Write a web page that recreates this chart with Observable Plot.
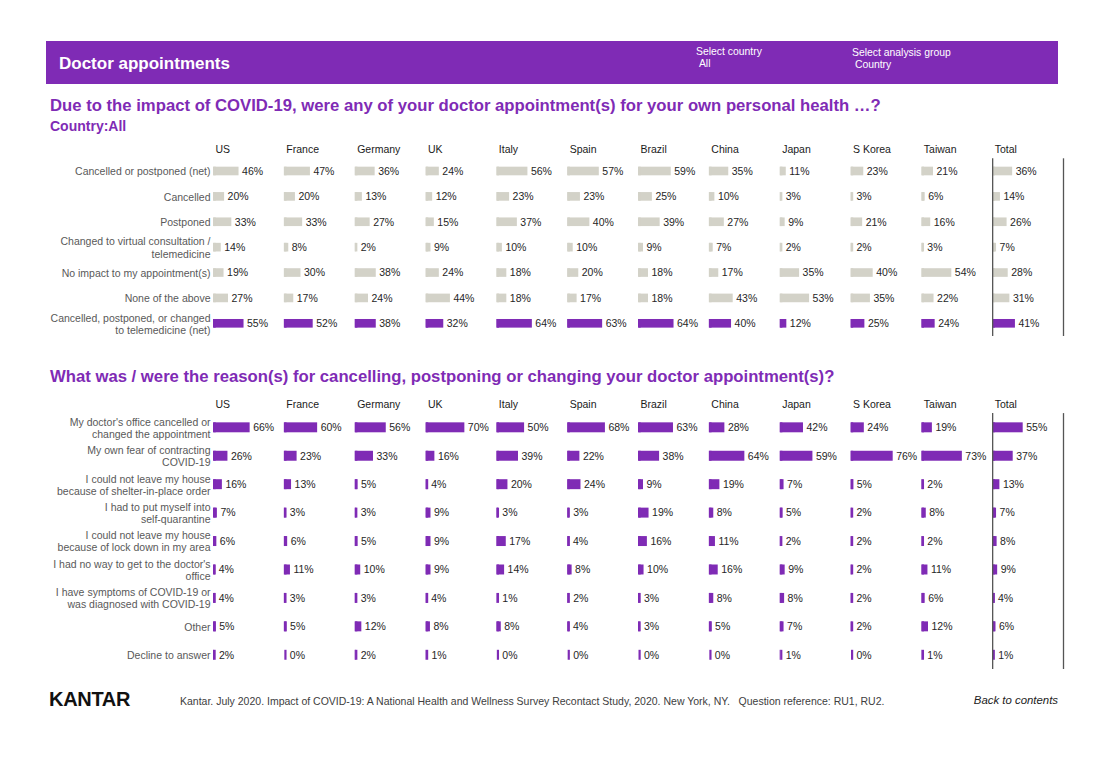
<!DOCTYPE html>
<html>
<head>
<meta charset="utf-8">
<script src="https://cdn.jsdelivr.net/npm/d3@7"></script>
<script src="https://cdn.jsdelivr.net/npm/@observablehq/plot@0.6"></script>
<style>
  html, body { margin: 0; padding: 0; background: #fff; }
  body { width: 1100px; height: 760px; position: relative; font-family: "Liberation Sans", Arial, sans-serif; overflow: hidden; }
  .abs { position: absolute; white-space: nowrap; }
  #band { left: 46px; top: 41px; width: 1012px; height: 43px; background: #7f2bb5; }
  #bandTitle { left: 59px; top: 54px; font-size: 17px; font-weight: bold; color: #fff; }
  .sel { font-size: 10.4px; color: #fff; line-height: 12px; }
  .q { left: 50px; font-size: 16.7px; font-weight: bold; color: #7f2bb5; }
  #sub { left: 50px; top: 118px; font-size: 14px; font-weight: bold; color: #7f2bb5; }
  #kantar { left: 49px; top: 688px; font-size: 20px; font-weight: bold; color: #111; letter-spacing: -0.3px; }
  #source { left: 180px; top: 695px; font-size: 10.5px; color: #404040; }
  #back { right: 42px; top: 694px; font-size: 11.4px; font-style: italic; color: #222; }
  .chart { position: absolute; left: 0; }
</style>
</head>
<body>
<div id="band" class="abs"></div>
<div id="bandTitle" class="abs">Doctor appointments</div>
<div class="abs sel" style="left:696px; top:46px;">Select country<br>&nbsp;All</div>
<div class="abs sel" style="left:852px; top:47px;">Select analysis group<br>&nbsp;Country</div>
<div class="abs q" style="top:96px;">Due to the impact of COVID-19, were any of your doctor appointment(s) for your own personal health …?</div>
<div id="sub" class="abs">Country:All</div>
<div class="abs q" style="top:367px;">What was / were the reason(s) for cancelling, postponing or changing your doctor appointment(s)?</div>
<div id="top" class="chart" style="top:140px;"></div>
<div id="bottom" class="chart" style="top:395px;"></div>
<div id="kantar" class="abs">KANTAR</div>
<div id="source" class="abs">Kantar. July 2020. Impact of COVID-19: A National Health and Wellness Survey Recontact Study, 2020. New York, NY.&nbsp;&nbsp; Question reference: RU1, RU2.</div>
<div id="back" class="abs">Back to contents</div>
<script>
const countries = ["US","France","Germany","UK","Italy","Spain","Brazil","China","Japan","S Korea","Taiwan","Total"];

// Panel 1: impact on appointments
const impactCategories = [
  "Cancelled or postponed (net)",
  "Cancelled",
  "Postponed",
  "Changed to virtual consultation /\ntelemedicine",
  "No impact to my appointment(s)",
  "None of the above",
  "Cancelled, postponed, or changed\nto telemedicine (net)"
];
const impactCancelledOrPostponed = [46,47,36,24,56,57,59,35,11,23,21,36];
const impactCancelled            = [20,20,13,12,23,23,25,10,3,3,6,14];
const impactPostponed            = [33,33,27,15,37,40,39,27,9,21,16,26];
const impactVirtual              = [14,8,2,9,10,10,9,7,2,2,3,7];
const impactNoImpact             = [19,30,38,24,18,20,18,17,35,40,54,28];
const impactNone                 = [27,17,24,44,18,17,18,43,53,35,22,31];
const impactAnyNet               = [55,52,38,32,64,63,64,40,12,25,24,41];
const impactValues = [impactCancelledOrPostponed, impactCancelled, impactPostponed, impactVirtual, impactNoImpact, impactNone, impactAnyNet];
const impactHighlight = ["Cancelled, postponed, or changed\nto telemedicine (net)"];

// Panel 2: reasons
const reasonCategories = [
  "My doctor's office cancelled or\nchanged the appointment",
  "My own fear of contracting\nCOVID-19",
  "I could not leave my house\nbecause of shelter-in-place order",
  "I had to put myself into\nself-quarantine",
  "I could not leave my house\nbecause of lock down in my area",
  "I had no way to get to the doctor's\noffice",
  "I have symptoms of COVID-19 or\nwas diagnosed with COVID-19",
  "Other",
  "Decline to answer"
];
const reasonOffice     = [66,60,56,70,50,68,63,28,42,24,19,55];
const reasonFear       = [26,23,33,16,39,22,38,64,59,76,73,37];
const reasonShelter    = [16,13,5,4,20,24,9,19,7,5,2,13];
const reasonQuarantine = [7,3,3,9,3,3,19,8,5,2,8,7];
const reasonLockdown   = [6,6,5,9,17,4,16,11,2,2,2,8];
const reasonNoWay      = [4,11,10,9,14,8,10,16,9,2,11,9];
const reasonSymptoms   = [4,3,3,4,1,2,3,8,8,2,6,4];
const reasonOther      = [5,5,12,8,8,4,3,5,7,2,12,6];
const reasonDecline    = [2,0,2,1,0,0,0,0,1,0,1,1];
const reasonValues = [reasonOffice, reasonFear, reasonShelter, reasonQuarantine, reasonLockdown, reasonNoWay, reasonSymptoms, reasonOther, reasonDecline];

const PURPLE = "#7f2bb5";
const GREY = "#d3d2c8";
const XMAX = 127.6;

function rows(cats, vals, colorFn) {
  const out = [];
  cats.forEach((c, i) => countries.forEach((k, j) => out.push({cat: c, country: k, v: vals[i][j], color: colorFn(c)})));
  return out;
}

function panel(data, cats, rowStep, barFrac, marginTop) {
  const n = cats.length;
  const pi = 1 - barFrac;
  const big = data.filter(d => d.v > 3);
  const small = data.filter(d => d.v <= 3);
  return Plot.plot({
    width: 1064,
    height: Math.round(marginTop + n * rowStep + 4),
    marginLeft: 213,
    marginRight: 1,
    marginTop: marginTop,
    marginBottom: 4,
    style: {fontFamily: "'Liberation Sans', Arial, sans-serif", fontSize: "10.5px", background: "transparent", overflow: "visible"},
    fx: {domain: countries, padding: 0, round: false, axis: null},
    x: {domain: [0, XMAX], axis: null},
    y: {domain: cats, paddingInner: pi, paddingOuter: pi / 2, round: false, axis: null},
    marks: [
      Plot.axisY({tickSize: 0, tickPadding: 3, fontSize: 10.5, fill: "#595959", lineHeight: 1.15, label: null}),
      Plot.barX(data, {x1: 0, x2: "v", y: "cat", fx: "country", fill: d => d.color}),
      Plot.tickX(data, {x: 0, y: "cat", fx: "country", stroke: d => d.color, strokeWidth: 2.2, dx: 1.1}),
      Plot.text(big, {x: "v", y: "cat", fx: "country", text: d => d.v + "%", textAnchor: "start", dx: 3, fontSize: 10.5, fill: "#262626"}),
      Plot.text(small, {x: 0, y: "cat", fx: "country", text: d => d.v + "%", textAnchor: "start", dx: 5.5, fontSize: 10.5, fill: "#262626"}),
      Plot.text(countries, {fx: d => d, text: d => d, frameAnchor: "top-left", dx: 2, dy: -13, fontSize: 10.5, fill: "#1a1a1a", textAnchor: "start"}),
      Plot.ruleX([0, XMAX], {x: d => d, fx: () => "Total", stroke: "#555", strokeWidth: 1.3})
    ]
  });
}

const topData = rows(impactCategories, impactValues, c => impactHighlight.includes(c) ? PURPLE : GREY);
document.getElementById("top").append(panel(topData, impactCategories, 25.33, 0.34, 18.3));

const bottomData = rows(reasonCategories, reasonValues, () => PURPLE);
document.getElementById("bottom").append(panel(bottomData, reasonCategories, 28.46, 0.35, 18.1));
</script>
</body>
</html>
